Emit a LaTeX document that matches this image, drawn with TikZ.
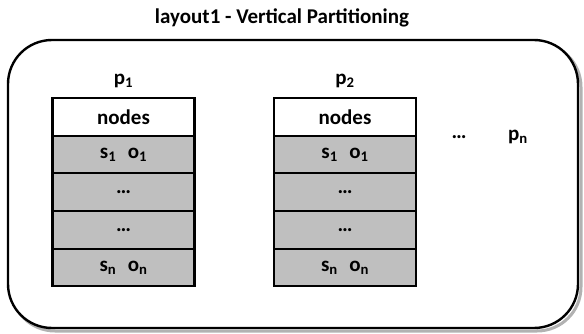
\documentclass[tikz,border=0pt]{standalone}
\usepackage{fontspec}
\setmainfont{Carlito}
\usetikzlibrary{positioning}
\definecolor{cell-gray}{gray}{0.75}
\tikzset{
  cell/.style={draw, line width=2.2pt, outer sep=0pt, inner sep=0pt,
    minimum width=142pt, minimum height=37.6pt, fill=cell-gray,
    font=\bfseries\fontsize{21}{24}\selectfont},
  headcell/.style={cell, fill=white},
  plabel/.style={font=\bfseries\fontsize{21}{24}\selectfont},
}

\begin{document}
\begin{tikzpicture}[x=1pt,y=-1pt]
\useasboundingbox (0,0) rectangle (584,334);

\node[plabel] (title) at (282,18) {layout1 - Vertical Partitioning};

% frame and its shadow
\draw[rounded corners=44pt, draw=black!30, line width=3pt] (11,43) rectangle (581,331);
\draw[rounded corners=44pt, line width=2.4pt, fill=white] (8,40) rectangle (578,328);

% partitions
\foreach \c/\x in {1/123.5, 2/345}{
  \node[plabel] (p\c) at (\x,81) {p\textsubscript{\c}};
  \node[headcell] (h\c) at (\x,117) {nodes};
  \node[cell, below=0pt of h\c] (a\c) {s\textsubscript{1}\hspace{0.55em}o\textsubscript{1}};
  \node[cell, below=0pt of a\c] (b\c) {\ldots};
  \node[cell, below=0pt of b\c] (c\c) {\ldots};
  \node[cell, below=0pt of c\c] (d\c) {s\textsubscript{n}\hspace{0.55em}o\textsubscript{n}};
}

\node[plabel] (dots) at (459,137) {\ldots};
\node[plabel] (pn) at (518,137) {p\textsubscript{n}};

\end{tikzpicture}
\end{document}
